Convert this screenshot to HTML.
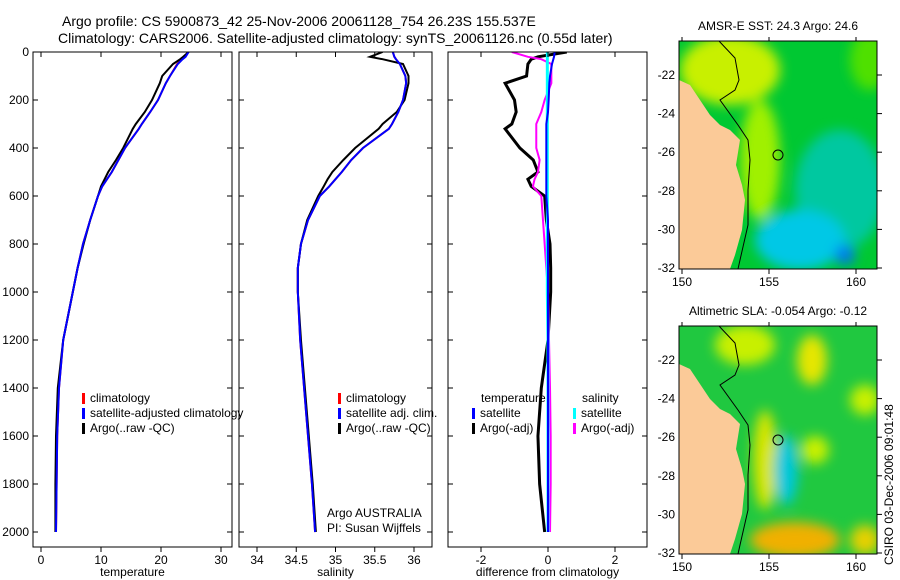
<!DOCTYPE html>
<html><head><meta charset="utf-8"><style>
html,body{margin:0;background:#fff;width:900px;height:580px;overflow:hidden;}
svg{display:block;font-family:"Liberation Sans",sans-serif;}
text{font-size:12px;fill:#000;}
</style></head><body>
<svg id="chart" width="900" height="580" viewBox="0 0 900 580">
<defs>
<clipPath id="c1"><rect x="33" y="52" width="199" height="495"/></clipPath>
<clipPath id="c2"><rect x="239" y="52" width="193" height="495"/></clipPath>
<clipPath id="c3"><rect x="448" y="52" width="199" height="495"/></clipPath>
<clipPath id="m1"><rect x="679" y="41" width="198" height="228"/></clipPath>
<clipPath id="m2"><rect x="679" y="326" width="198" height="228"/></clipPath>
<filter id="bl"><feGaussianBlur stdDeviation="6"/></filter>
</defs>
<text x="62" y="26" style="font-size:14px">Argo profile: CS 5900873_42 25-Nov-2006 20061128_754 26.23S 155.537E</text>
<text x="58" y="43" style="font-size:14px">Climatology: CARS2006. Satellite-adjusted climatology: synTS_20061126.nc (0.55d later)</text>

<g>
<text x="778" y="30" text-anchor="middle">AMSR-E SST: 24.3 Argo: 24.6</text>
<g clip-path="url(#m1)">
<rect x="679" y="41" width="198" height="228" fill="#00c832"/>
<g filter="url(#bl)">
<ellipse cx="730" cy="70" rx="50" ry="35" fill="#c8f000"/>
<ellipse cx="760" cy="160" rx="20" ry="60" fill="#a0f000"/>
<ellipse cx="840" cy="190" rx="45" ry="60" fill="#00c8a0"/>
<ellipse cx="800" cy="240" rx="45" ry="30" fill="#00c8e6"/>
<ellipse cx="845" cy="255" rx="10" ry="10" fill="#0078f0"/>
<ellipse cx="870" cy="60" rx="20" ry="30" fill="#50e000"/>
</g>
<polygon points="679,80 690,85 700,100 710,115 720,125 730,130 740,140 736,165 742,185 745,200 742,230 735,255 730,269 679,269" fill="#fbca98"/>
<polyline points="719,41 735,58 739,80 735,90 720,100 738,125 748,140 750,160 748,190 748,225 740,260 738,269" fill="none" stroke="#000" stroke-width="1"/>
<circle cx="778" cy="155" r="5" fill="none" stroke="#000"/>
</g>
<rect x="679" y="41" width="198" height="228" fill="none" stroke="#000"/>
</g>

<g>
<text x="778" y="315" text-anchor="middle">Altimetric SLA: -0.054 Argo: -0.12</text>
<g clip-path="url(#m2)">
<rect x="679" y="326" width="198" height="228" fill="#20c840"/>
<g filter="url(#bl)">
<ellipse cx="745" cy="345" rx="30" ry="20" fill="#c8f000"/>
<ellipse cx="812" cy="360" rx="15" ry="25" fill="#e6e600"/>
<ellipse cx="765" cy="460" rx="12" ry="50" fill="#d8e600"/>
<ellipse cx="786" cy="470" rx="12" ry="35" fill="#00c8dc"/>
<ellipse cx="815" cy="450" rx="14" ry="14" fill="#c8f000"/>
<ellipse cx="795" cy="540" rx="45" ry="18" fill="#f0b000"/>
<ellipse cx="865" cy="400" rx="15" ry="15" fill="#c8f000"/>
<ellipse cx="865" cy="540" rx="15" ry="15" fill="#e6d000"/>
</g>
<polygon points="679,364 690,369 700,384 710,399 720,409 730,414 740,424 736,449 742,469 745,484 742,514 735,539 730,554 679,554" fill="#fbca98"/>
<polyline points="719,326 735,343 739,365 735,375 720,385 738,410 748,425 750,445 748,475 748,510 740,545 738,554" fill="none" stroke="#000" stroke-width="1"/>
<circle cx="778" cy="440" r="5" fill="none" stroke="#000"/>
</g>
<rect x="679" y="326" width="198" height="228" fill="none" stroke="#000"/>
</g>
<text transform="translate(893,565) rotate(-90)" style="font-size:12px">CSIRO 03-Dec-2006 09:01:48</text>

<g id="plots"></g>
</svg>
<script>
const depthTicks=[0,200,400,600,800,1000,1200,1400,1600,1800,2000];
const tTicks=[0,10,20,30];
const sTicks=[34,34.5,35,35.5,36];
const dTicks=[-2,0,2];
const depths=[0,20,30,50,100,130,200,250,300,320,400,450,500,530,560,600,700,800,900,1000,1200,1400,1600,1800,2000];
const tempClim=[24.5,24,23.5,22.7,21.5,20.8,19.5,18.2,16.8,16.3,14,12.9,11.8,11,10.2,9.5,8.2,7,6.1,5.3,3.7,3.0,2.7,2.6,2.5];
const tempSat=[24.6,24.1,23.6,22.8,21.5,20.8,19.5,18.2,16.8,16.3,14,12.9,11.8,11,10.2,9.5,8.2,7,6.1,5.3,3.7,3.0,2.7,2.6,2.5];
const tempArgo=[24.6,23.7,23.2,22,20.2,19.8,18.5,17.3,15.8,15.3,13.7,12.5,11.2,10.6,10.0,9.5,8.2,7.1,6.1,5.3,3.7,2.8,2.5,2.4,2.4];
const salClim=[35.73,35.75,35.77,35.82,35.89,35.9,35.86,35.8,35.72,35.68,35.35,35.2,35.08,35.0,34.92,34.8,34.65,34.56,34.52,34.52,34.55,34.6,34.65,34.7,34.74];
const salSat=[35.73,35.75,35.77,35.82,35.89,35.9,35.86,35.8,35.72,35.68,35.35,35.2,35.08,35.0,34.92,34.8,34.65,34.56,34.52,34.52,34.55,34.6,34.65,34.7,34.74];
const salArgo=[35.6,35.44,35.6,35.86,35.93,35.93,35.88,35.78,35.6,35.55,35.25,35.1,34.96,34.9,34.85,34.78,34.64,34.56,34.52,34.52,34.56,34.61,34.66,34.71,34.75];
const dT=[0.56,-0.3,-0.5,-0.6,-0.64,-1.28,-1.0,-0.95,-1.08,-1.28,-0.84,-0.44,-0.3,-0.6,-0.5,-0.1,-0.05,0.06,0.08,0.08,0,-0.2,-0.3,-0.25,-0.1];
const dS=[-1.08,-0.6,-0.2,0.1,0.1,0.1,-0.1,-0.2,-0.35,-0.35,-0.35,-0.25,-0.3,-0.4,-0.45,-0.2,-0.15,-0.1,-0.05,0,0.03,0.06,0.08,0.08,0.06];
const dTsat=[0.2,0.18,0.16,0.12,0.06,0.04,0.02,0,-0.05,-0.05,-0.05,-0.05,-0.05,-0.05,-0.05,-0.05,0,0,0,0,0,0,0,0,0];
const dSsat=[-0.02,-0.02,-0.02,-0.02,-0.02,-0.02,-0.02,-0.02,-0.02,-0.02,-0.02,-0.02,-0.02,-0.02,-0.02,-0.02,-0.02,-0.02,-0.02,-0.02,0,0,0,0,0];
const NS='http://www.w3.org/2000/svg';
const root=document.getElementById('plots');
function el(t,a,p){const e=document.createElementNS(NS,t);for(const k in a)e.setAttribute(k,a[k]);(p||root).appendChild(e);return e;}
const Y=d=>52+d*0.24;
function panel(id,x0,w,x,ticks,label,clip,showY,series,legend){
  const g=el('g',{});
  
  
  const sg=el('g',{'clip-path':'url(#'+clip+')'},g);
  series.forEach(s=>{
    const p=el('polyline',{points:s.v.map((v,i)=>x(v)+','+Y(depths[i])).join(' '),fill:'none',stroke:s.c,'stroke-width':s.w||2},sg);
    
    
  });
  el('rect',{x:x0,y:52,width:w,height:495,fill:'none',stroke:'#000'},g);
  ticks.forEach(t=>{
    el('line',{x1:x(t),x2:x(t),y1:547,y2:552,stroke:'#000'},g);
    el('line',{x1:x(t),x2:x(t),y1:52,y2:57,stroke:'#000'},g);
    const tx=el('text',{x:x(t),y:564,'text-anchor':'middle'},g);tx.textContent=t;
  });
  depthTicks.forEach(d=>{
    el('line',{x1:x0,x2:x0+5,y1:Y(d),y2:Y(d),stroke:'#000'},g);
    el('line',{x1:x0+w,x2:x0+w-5,y1:Y(d),y2:Y(d),stroke:'#000'},g);
    if(showY){const tx=el('text',{x:x0-4,y:Y(d)+4,'text-anchor':'end'},g);tx.textContent=d;}
  });
  const xl=el('text',{x:x0+w/2,y:576,'text-anchor':'middle'},g);xl.textContent=label;
  legend.forEach(l=>{
    if(l.c)el('rect',{x:l.x,y:l.y-9,width:3,height:11,fill:l.c},g);
    const tx=el('text',{x:l.x+(l.c?8:0),y:l.y},g);tx.textContent=l.t;
  });
}
const xT=v=>41+v*6, xS=v=>257+(v-34)*78.5, xD=v=>548+v*33.5;
panel('temperature-panel',33,199,xT,tTicks,'temperature','c1',true,
 [{v:tempClim,c:'#f00',n:'temp-climatology-line'},{v:tempArgo,c:'#000',n:'temp-argo-line'},{v:tempSat,c:'#00f',n:'temp-satellite-line'}],
 [{x:82,y:402,c:'#f00',t:'climatology'},{x:82,y:417,c:'#00f',t:'satellite-adjusted climatology'},{x:82,y:432,c:'#000',t:'Argo(..raw -QC)'}]);
panel('salinity-panel',239,193,xS,sTicks,'salinity','c2',false,
 [{v:salClim,c:'#f00',n:'sal-climatology-line'},{v:salArgo,c:'#000',n:'sal-argo-line'},{v:salSat,c:'#00f',n:'sal-satellite-line'}],
 [{x:338,y:402,c:'#f00',t:'climatology'},{x:338,y:417,c:'#00f',t:'satellite adj. clim.'},{x:338,y:432,c:'#000',t:'Argo(..raw -QC)'},{x:327,y:517,t:'Argo AUSTRALIA'},{x:327,y:532,t:'PI: Susan Wijffels'}]);
panel('difference-panel',448,199,xD,dTicks,'difference from climatology','c3',false,
 [{v:dT,c:'#000',n:'temp-argo-diff-line',w:3},{v:dS,c:'#f0f',n:'sal-argo-diff-line'},{v:dSsat,c:'#0ff',n:'sal-satellite-diff-line',w:3},{v:dTsat,c:'#00f',n:'temp-satellite-diff-line'}],
 [{x:481,y:402,t:'temperature'},{x:472,y:417,c:'#00f',t:'satellite'},{x:472,y:432,c:'#000',t:'Argo(-adj)'},{x:582,y:402,t:'salinity'},{x:573,y:417,c:'#0ff',t:'satellite'},{x:573,y:432,c:'#f0f',t:'Argo(-adj)'}]);
const lonTicks=[150,155,160], latTicks=[-22,-24,-26,-28,-30,-32];
[[41,269,'sst'],[326,554,'sla']].forEach(([y0,y1,n])=>{
  const g=el('g',{});
  
  
  const lx=v=>682+(v-150)*17.4, ly=v=>(y1-1)-(v+32)*19.3;
  lonTicks.forEach(t=>{el('line',{x1:lx(t),x2:lx(t),y1:y1,y2:y1+5,stroke:'#000'},g);el('line',{x1:lx(t),x2:lx(t),y1:y0,y2:y0-4,stroke:'#000'},g);const tx=el('text',{x:lx(t),y:y1+17,'text-anchor':'middle'},g);tx.textContent=t;});
  latTicks.forEach(t=>{el('line',{x1:877,x2:882,y1:ly(t),y2:ly(t),stroke:'#000'},g);const tx=el('text',{x:675,y:ly(t)+4,'text-anchor':'end'},g);tx.textContent=t;});
});
</script>
</body></html>
